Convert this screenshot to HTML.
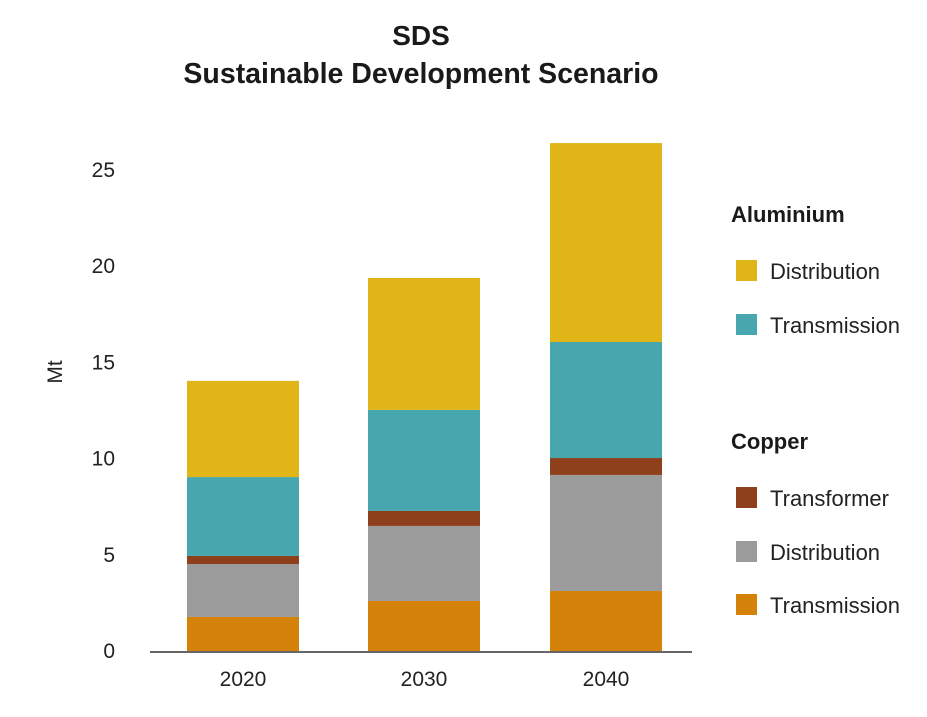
<!DOCTYPE html>
<html><head><meta charset="utf-8">
<style>
html,body{margin:0;padding:0;background:#fff;}
svg{display:block;font-family:"Liberation Sans",sans-serif;}
</style></head>
<body>
<svg id="chart" width="927" height="717" viewBox="0 0 927 717" xmlns="http://www.w3.org/2000/svg">
  <text x="421" y="45" text-anchor="middle" font-size="28" font-weight="bold" fill="#1a1a1a">SDS</text>
  <text x="421" y="83" text-anchor="middle" font-size="28.5" font-weight="bold" fill="#1a1a1a">Sustainable Development Scenario</text>
  <text transform="translate(62,372) rotate(-90)" text-anchor="middle" font-size="21" fill="#222">Mt</text>
  <g id="yticks"></g>
  <g id="bars"></g>
  <line x1="150" y1="652" x2="692" y2="652" stroke="#333" stroke-width="1.5"/>
  <g id="xticks"></g>
  <g id="legend">
    <text x="731" y="222" font-size="22" font-weight="bold" fill="#1a1a1a">Aluminium</text>
    <text x="731" y="449" font-size="22" font-weight="bold" fill="#1a1a1a">Copper</text>
  </g>
</svg>
<script>
const categories = ["2020","2030","2040"];
const cuTransmission = [1.77, 2.6, 3.12];
const cuDistribution = [2.75, 3.9, 6.03];
const cuTransformer = [0.42, 0.78, 0.88];
const alTransmission = [4.1, 5.25, 6.03];
const alDistribution = [5.0, 6.86, 10.34];
const yTicks = [0,5,10,15,20,25];

const NS="http://www.w3.org/2000/svg";
const y0=651, pxPerUnit=(651-170)/25;
function yScale(v){return y0 - v*pxPerUnit;}
const barX=[187,368,550], barW=112;
function xScale(i){return barX[i];}

const series=[
  {name:"copper-transmission",data:cuTransmission,color:"#d4820a"},
  {name:"copper-distribution",data:cuDistribution,color:"#9b9b9b"},
  {name:"copper-transformer",data:cuTransformer,color:"#8e3f1c"},
  {name:"aluminium-transmission",data:alTransmission,color:"#48a6ae"},
  {name:"aluminium-distribution",data:alDistribution,color:"#dfb518"}
];

const yg=document.getElementById('yticks');
yTicks.forEach(t=>{
  const tx=document.createElementNS(NS,'text');
  
  
  tx.setAttribute('x',115);tx.setAttribute('y',yScale(t)+7);
  tx.setAttribute('text-anchor','end');tx.setAttribute('font-size','21');tx.setAttribute('fill','#222');
  tx.textContent=t;yg.appendChild(tx);
});

const bg=document.getElementById('bars');
categories.forEach((c,i)=>{
  let cum=0;
  series.forEach(s=>{
    const v=s.data[i];
    const r=document.createElementNS(NS,'rect');
    
    
    r.setAttribute('x',xScale(i));r.setAttribute('width',barW);
    r.setAttribute('y',yScale(cum+v));r.setAttribute('height',yScale(cum)-yScale(cum+v));
    r.setAttribute('fill',s.color);
    bg.appendChild(r);cum+=v;
  });
});

const xg=document.getElementById('xticks');
categories.forEach((c,i)=>{
  const tx=document.createElementNS(NS,'text');
  
  
  tx.setAttribute('x',xScale(i)+barW/2);tx.setAttribute('y',686);
  tx.setAttribute('text-anchor','middle');tx.setAttribute('font-size','21');tx.setAttribute('fill','#222');
  tx.textContent=c;xg.appendChild(tx);
});

const legendItems=[
  {label:"Distribution",color:"#dfb518",y:271,key:"aluminium-distribution"},
  {label:"Transmission",color:"#48a6ae",y:325,key:"aluminium-transmission"},
  {label:"Transformer",color:"#8e3f1c",y:498,key:"copper-transformer"},
  {label:"Distribution",color:"#9b9b9b",y:552,key:"copper-distribution"},
  {label:"Transmission",color:"#d4820a",y:605,key:"copper-transmission"}
];
const lg=document.getElementById('legend');
legendItems.forEach(it=>{
  const r=document.createElementNS(NS,'rect');
  
  
  r.setAttribute('x',736);r.setAttribute('y',it.y-11);r.setAttribute('width',21);r.setAttribute('height',21);
  r.setAttribute('fill',it.color);lg.appendChild(r);
  const t=document.createElementNS(NS,'text');
  
  
  t.setAttribute('x',770);t.setAttribute('y',it.y+8);t.setAttribute('font-size','22');t.setAttribute('fill','#222');
  t.textContent=it.label;lg.appendChild(t);
});
</script>
</body></html>
